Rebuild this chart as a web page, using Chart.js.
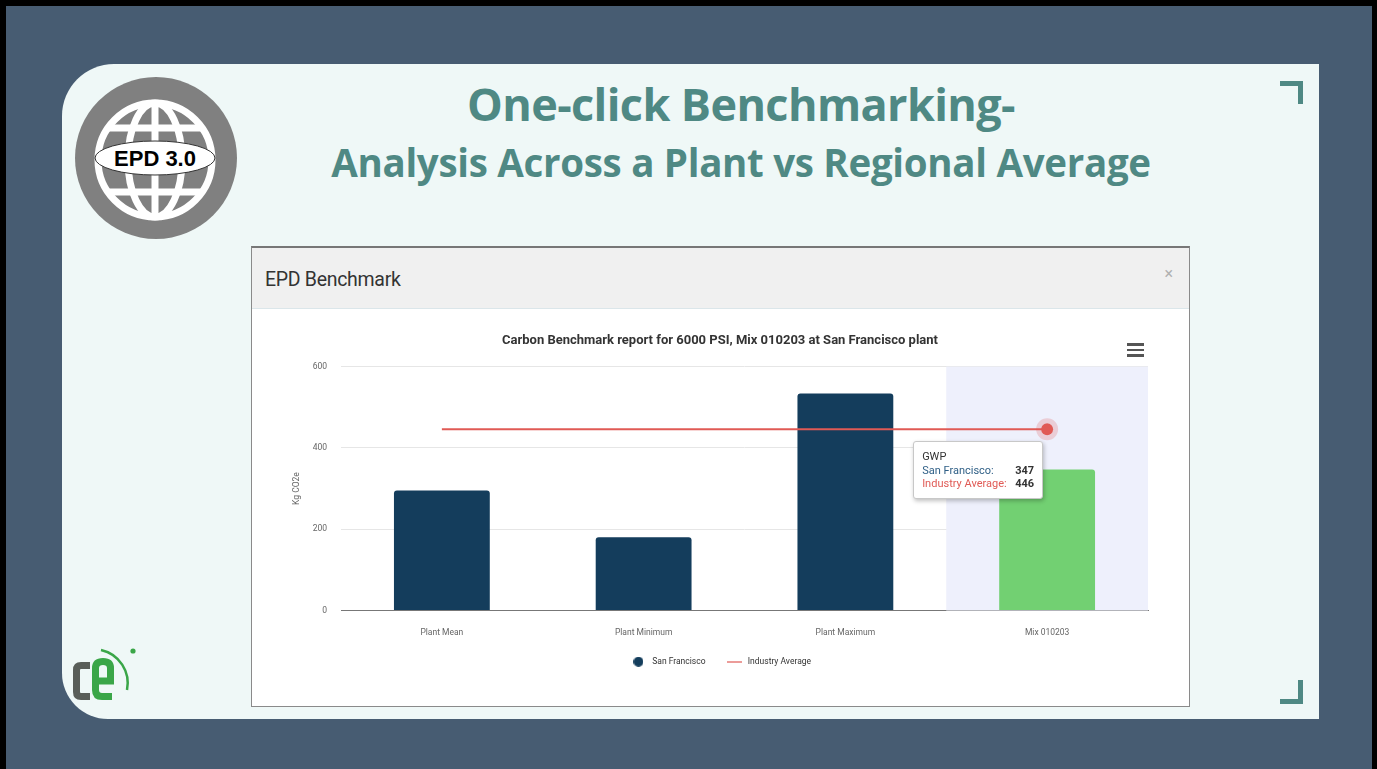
<!DOCTYPE html>
<html>
<head>
<meta charset="utf-8">
<script src="https://cdn.jsdelivr.net/npm/chart.js@4.4.1/dist/chart.umd.min.js"></script>
<style>
  html, body { margin: 0; padding: 0; }
  body { width: 1377px; height: 769px; background: #000; position: relative; overflow: hidden; font-family: Roboto, sans-serif; }
  .slate { position: absolute; left: 6px; top: 6px; right: 5px; bottom: 0; background: #475c72; }
  .panel { position: absolute; left: 62px; top: 64px; width: 1257px; height: 655px; background: #eff8f7; border-radius: 52px 0 0 46px; }
  .headline { position: absolute; left: 0; width: 1482px; text-align: center; color: #4f8984; font-family: "Open Sans", sans-serif; font-weight: 700; white-space: nowrap; }
  .h1 { top: 73px; font-size: 45px; letter-spacing: -0.6px; }
  .h2 { top: 136px; font-size: 38.5px; letter-spacing: -0.3px; }
  .corner { position: absolute; background: #4f8984; }
  .modal { position: absolute; left: 251px; top: 246px; width: 937px; height: 458px; background: #fff; border: 1px solid #8a8a8a; border-top: 2px solid #777; }
  .modal-head { position: absolute; left: 0; top: 0; right: 0; height: 60px; background: #f0f0f0; border-bottom: 1px solid #dbe6ea; }
  .modal-head .t { position: absolute; left: 13px; top: 20px; font-size: 19.5px; color: #333; letter-spacing: -0.3px; }
  .modal-head .x { position: absolute; right: 16px; top: 16px; font-size: 16px; color: #b0b0b0; }
  #chartWrap { position: absolute; left: 252px; top: 308px; width: 937px; height: 397px; }
  .burger { position: absolute; left: 1127px; top: 343px; width: 17px; }
  .burger div { height: 2.5px; background: #555; margin-bottom: 3px; }
  #tip { position: absolute; background: #fff; border: 1px solid #c8c8c8; border-radius: 3px; box-shadow: 1px 2px 4px rgba(0,0,0,0.25); font-size: 11px; color: #333; padding: 8px 8px 7px 8px; line-height: 13.5px; }
  #tip .row { display: flex; justify-content: space-between; }
  #tip b { font-weight: 700; color: #333; margin-left: 6px; }
</style>
</head>
<body>
<div class="slate"></div>
<div class="panel"></div>

<!-- logo EPD 3.0 -->
<svg style="position:absolute;left:0;top:0" width="260" height="260">
  <circle cx="156" cy="158" r="81" fill="#808080"/>
  <g stroke="#fff" fill="none" stroke-width="7">
    <circle cx="155" cy="160" r="57"/>
    <line x1="155" y1="103" x2="155" y2="217"/>
    <ellipse cx="155" cy="160" rx="27" ry="57"/>
    <line x1="108" y1="128" x2="202" y2="128"/>
    <line x1="108" y1="192" x2="202" y2="192"/>
  </g>
  <ellipse cx="155" cy="158" rx="60" ry="17" fill="#fff" stroke="#333" stroke-width="1"/>
  <text x="155" y="166" text-anchor="middle" font-family="Liberation Sans, Arial, sans-serif" font-weight="700" font-size="22" fill="#000">EPD 3.0</text>
</svg>

<!-- logo ce -->
<svg style="position:absolute;left:0;top:600px" width="160" height="120">
  <g transform="translate(0,-600)" fill="none" stroke-width="7">
    <path d="M90 665.5 H81 Q76.5 665.5 76.5 670 V692 Q76.5 696.5 81 696.5 H90" stroke="#595e59"/>
    <path d="M95.5 681 H110.5 V668 Q110.5 661.5 103 661.5 Q95.5 661.5 95.5 668 V690 Q95.5 696.5 102 696.5 H112" stroke="#3aa648"/>
    <path d="M101 650 A34 34 0 0 1 127 690" stroke="#3aa648" stroke-width="2.5"/>
    <circle cx="133" cy="651" r="2.6" fill="#3aa648" stroke="none"/>
  </g>
</svg>

<div class="headline h1">One-click Benchmarking-</div>
<div class="headline h2">Analysis Across a Plant vs Regional Average</div>

<div class="corner" style="left:1280px;top:81px;width:23px;height:5px"></div>
<div class="corner" style="left:1298px;top:81px;width:5px;height:23px"></div>
<div class="corner" style="left:1298px;top:680px;width:5px;height:24px"></div>
<div class="corner" style="left:1280px;top:699px;width:23px;height:5px"></div>

<div class="modal">
  <div class="modal-head"><span class="t">EPD Benchmark</span><span class="x">×</span></div>
</div>
<div id="chartWrap"><canvas id="benchChart" width="937" height="397"></canvas></div>
<div class="burger"><div></div><div></div><div></div></div>

<script>
// datos del gráfico
const categories = ['Plant Mean', 'Plant Minimum', 'Plant Maximum', 'Mix 010203'];
const plantValues = [295, 180, 534, 347];
const industryAverage = [446, 446, 446, 446];
const yTicks = [0, 200, 400, 600];
const barColors = ['#143d5c', '#143d5c', '#143d5c', '#72d072'];
const highlightIndex = 3;
const chartTitle = 'Carbon Benchmark report for 6000 PSI, Mix 010203 at San Francisco plant';

Chart.defaults.font.family = 'Roboto, sans-serif';
Chart.defaults.color = '#666';

// marcadores de la leyenda (círculo y línea)
function makeMarker(kind, color) {
    const c = document.createElement('canvas');
    const ctx = c.getContext('2d');
    if (kind === 'circle') {
        c.width = 10; c.height = 10;
        ctx.fillStyle = color;
        ctx.beginPath();
        ctx.arc(5, 5, 5, 0, Math.PI * 2);
        ctx.fill();
    } else {
        c.width = 15; c.height = 2;
        ctx.fillStyle = color;
        ctx.fillRect(0, 0, 15, 2);
    }
    return c;
}
const circleMarker = makeMarker('circle', barColors[0]);
const lineMarker = makeMarker('line', 'rgba(224, 90, 85, 0.6)');

// banda resaltada + halo del punto activo
const highlightPlugin = {
    id: 'highlight',
    beforeDatasetsDraw(chart) {
        const { ctx, chartArea, scales } = chart;
        const band = scales.x.getPixelForValue(1) - scales.x.getPixelForValue(0);
        const cx = scales.x.getPixelForValue(highlightIndex);
        ctx.save();
        ctx.fillStyle = '#eef0fc';
        ctx.fillRect(cx - band / 2, chartArea.top, band, chartArea.bottom - chartArea.top);
        ctx.restore();
    },
    afterDatasetsDraw(chart) {
        const pt = chart.getDatasetMeta(1).data[highlightIndex];
        const ctx = chart.ctx;
        ctx.save();
        ctx.strokeStyle = 'rgba(224, 80, 80, 0.22)';
        ctx.lineWidth = 5;
        ctx.beginPath();
        ctx.arc(pt.x, pt.y, 8.5, 0, Math.PI * 2);
        ctx.stroke();
        ctx.restore();
    }
};

const chart = new Chart(document.getElementById('benchChart'), {
    type: 'bar',
    data: {
        labels: categories,
        datasets: [{
            label: 'San Francisco',
            data: plantValues,
            backgroundColor: barColors,
            borderRadius: { topLeft: 3, topRight: 3 },
            borderSkipped: 'bottom',
            categoryPercentage: 1,
            barPercentage: 0.475,
            order: 2
        }, {
            type: 'line',
            label: 'Industry Average',
            data: industryAverage,
            borderColor: '#e05a55',
            borderWidth: 2,
            pointRadius: [0, 0, 0, 6],
            pointBackgroundColor: '#e05a55',
            pointBorderWidth: 0,
            order: 1
        }]
    },
    options: {
        responsive: false,
        animation: false,
        layout: { padding: { left: 40, right: 41, top: 25, bottom: 29 } },
        scales: {
            x: {
                grid: { display: false, drawTicks: false },
                border: { display: true, color: '#777', width: 1 },
                ticks: { font: { size: 8.5 }, color: '#666', padding: 17 },
                afterFit: (axis) => { axis.height = 28; }
            },
            y: {
                min: 0,
                max: 600,
                afterBuildTicks: (axis) => { axis.ticks = yTicks.map(v => ({ value: v })); },
                afterFit: (axis) => { axis.width = 49; },
                grid: { color: (c) => c.tick && c.tick.value === 0 ? 'rgba(0,0,0,0)' : '#e6e6e6', drawTicks: false },
                border: { display: false },
                ticks: { font: { size: 8.5 }, color: '#666', padding: 14 },
                title: { display: true, text: 'Kg CO2e', font: { size: 8.5 }, color: '#666', padding: { top: 0, bottom: 4 } }
            }
        },
        plugins: {
            title: {
                display: true,
                text: chartTitle,
                font: { size: 13, weight: 'bold' },
                color: '#333',
                padding: { top: 0, bottom: 18 }
            },
            legend: {
                position: 'bottom',
                labels: {
                    usePointStyle: true,
                    pointStyleWidth: 19,
                    font: { size: 8.5 },
                    color: '#333',
                    padding: 19,
                    sort: (a, b) => a.datasetIndex - b.datasetIndex,
                    generateLabels: (ch) => {
                        const items = Chart.defaults.plugins.legend.labels.generateLabels(ch);
                        items.forEach(it => {
                            it.pointStyle = it.datasetIndex === 0 ? circleMarker : lineMarker;
                        });
                        return items;
                    }
                }
            },
            tooltip: { enabled: false }
        }
    },
    plugins: [highlightPlugin]
});

// tooltip fijo para el punto resaltado
function showTip() {
    const wrap = document.getElementById('chartWrap');
    const px = chart.scales.x.getPixelForValue(highlightIndex);
    const py = chart.scales.y.getPixelForValue(industryAverage[highlightIndex]);
    const tip = document.createElement('div');
    tip.id = 'tip';
    tip.innerHTML = `
        <div>GWP</div>
        <div class="row"><span style="color:#2f5f86">San Francisco:</span><b>${plantValues[highlightIndex]}</b></div>
        <div class="row"><span style="color:#e05a55">Industry Average:</span><b style="margin-left:0">${industryAverage[highlightIndex]}</b></div>`;
    tip.style.left = (px - 134) + 'px';
    tip.style.top = (py + 12) + 'px';
    tip.style.width = '112px';
    wrap.appendChild(tip);
}
showTip();
</script>
</body>
</html>
